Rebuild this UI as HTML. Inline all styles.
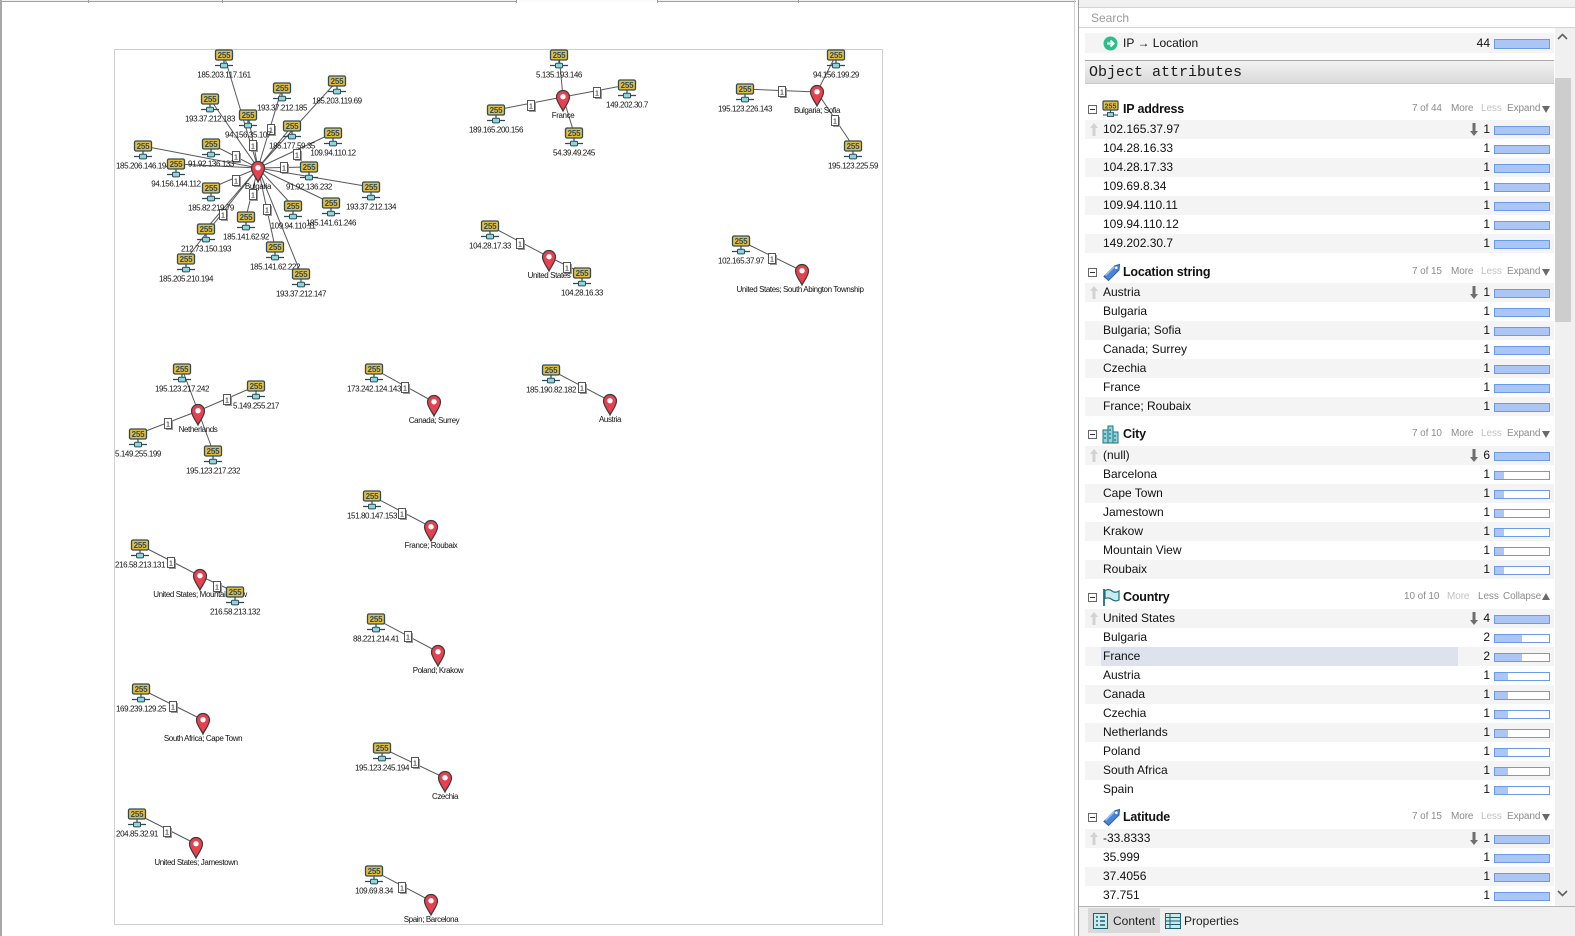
<!DOCTYPE html>
<html><head><meta charset="utf-8">
<style>
*{margin:0;padding:0;box-sizing:border-box}
body{width:1575px;height:936px;position:relative;overflow:hidden;background:#fff;font-family:"Liberation Sans",Arial,sans-serif}
.a{position:absolute}
.r{position:absolute;left:1085px;width:469px;height:19px;line-height:19px;font-size:12px;color:#111}
.g{background:#f4f4f4}
.r .t{position:absolute;left:18px;top:0;white-space:nowrap}
.r .c{position:absolute;right:64px;top:0}
.r .b{position:absolute;left:409px;top:6px;width:56px;height:9px;border:1px solid #6a9be9;background:#fff}
.r .b i{position:absolute;left:0;top:0;bottom:0;background:#abc6f4;display:block}
.r .u{position:absolute;left:5px;top:3px}
.r .d{position:absolute;left:385px;top:3px}
.h{position:absolute;left:1079px;width:475px;height:20px;line-height:20px;font-size:12px;background:#fff}
.h .x{position:absolute;left:9px;top:6px;width:9px;height:9px;border:1px solid #666;background:#fff}
.h .x:after{content:"";position:absolute;left:1px;top:3px;width:5px;height:1px;background:#333}
.h .ic{position:absolute;left:23px;top:1px}
.h .n{position:absolute;left:44px;font-weight:bold;font-size:12.5px;color:#111;letter-spacing:-0.2px}
.h .s{position:absolute;top:0;font-size:10px;color:#8c8c8c;letter-spacing:-0.1px;white-space:nowrap}
.h .lt{color:#c2c2c2}
.h .tri{position:absolute;left:463px;top:7px;width:0;height:0;border-left:4px solid transparent;border-right:4px solid transparent;border-top:7px solid #6a6a6a}
.h .triu{position:absolute;left:463px;top:6px;width:0;height:0;border-left:4px solid transparent;border-right:4px solid transparent;border-bottom:7px solid #6a6a6a}
svg text.l{font-family:"Liberation Sans",Arial,sans-serif;font-size:8px;fill:#111;text-anchor:middle;letter-spacing:-0.4px}
svg text.dg{font-family:"Liberation Sans",Arial,sans-serif;font-size:8px;font-weight:bold;fill:#2f4b58;text-anchor:middle;letter-spacing:-0.2px}
svg text.o{font-family:"Liberation Sans",Arial,sans-serif;font-size:7.5px;fill:#111;text-anchor:middle}
</style>
</head>
<body>

<!-- left panel chrome -->
<div class="a" style="left:0;top:0;width:1076px;height:2px;background:#f0f0f0;border-bottom:1px solid #a0a0a0"></div>
<div class="a" style="left:516px;top:0;width:141px;height:2px;background:#fbfbfb"></div>
<div class="a" style="left:88px;top:0;width:1px;height:3px;background:#a0a0a0"></div>
<div class="a" style="left:222px;top:0;width:1px;height:3px;background:#a0a0a0"></div>
<div class="a" style="left:516px;top:0;width:1px;height:3px;background:#a0a0a0"></div>
<div class="a" style="left:657px;top:0;width:1px;height:3px;background:#a0a0a0"></div>
<div class="a" style="left:798px;top:0;width:1px;height:3px;background:#a0a0a0"></div>
<div class="a" style="left:0;top:0;width:2px;height:936px;background:#a8a8a8"></div>
<div class="a" style="left:1074px;top:0;width:1px;height:936px;background:#cfcfcf"></div>
<div class="a" style="left:1078px;top:0;width:1px;height:936px;background:#9f9f9f"></div>

<svg class="a" style="left:0;top:0" width="1074" height="936" viewBox="0 0 1074 936">
<defs>
<g id="ipi"><path d="M0 5V8.5M-9 10.5H9" stroke="#2f4b58" stroke-width="1.2" fill="none"/><rect x="-8.5" y="-5" width="17" height="10" rx="1.5" fill="#e3bd3e" stroke="#2f4b58" stroke-width="1.3"/><rect x="-3.5" y="8.3" width="7" height="4.6" rx="1" fill="#8fd6dc" stroke="#2f4b58" stroke-width="1"/></g>
<g id="pin"><path d="M0 14C-2 9.5-6.5 5-6.5 0A6.5 6.5 0 1 1 6.5 0C6.5 5 2 9.5 0 14Z" fill="#e8404f" stroke="#3a3a3a" stroke-width="1.2"/><circle cy="-0.3" r="2.7" fill="#fff"/></g>
<g id="ob"><rect x="-2" y="-4" width="7" height="10" fill="#999"/><rect x="-3.5" y="-5.5" width="7" height="10" fill="#fff" stroke="#444" stroke-width="0.9"/></g>
</defs>
<rect x="114.5" y="49.5" width="768" height="875" fill="none" stroke="#cfcfcf"/>

<path fill="none" stroke="#595959" stroke-width="1" d="
M224 55L258 168 M210 99L258 168 M282 88L258 168 M337 81L258 168 M248 115L258 168
M292 126L258 168 M333 133L258 168 M143 146L258 168 M211 144L258 168 M176 164L258 168
M309 167L258 168 M371 187L258 168 M211 188L258 168 M246 217L258 168 M293 206L258 168
M331 203L258 168 M206 229L258 168 M275 247L258 168 M186 259L258 168 M301 274L258 168
M559 55L563 97 M627 85L563 97 M496 110L563 97 M574 133L563 97
M836 55L817 92 M745 89L817 92 M853 146L817 92
M490 226L549 257 M582 273L549 257
M741 241L802 271
M182 369L198 411 M256 386L198 411 M138 434L198 411 M213 451L198 411
M374 369L434 402 M551 370L610 401 M372 496L431 527
M140 545L200 576 M235 592L200 576
M376 619L438 652 M141 689L203 720 M382 748L445 778 M137 814L196 844 M374 871L431 901"/>

<g>
<g transform="translate(271,130)"><use href="#ob"/><text class="o" y="2.5">1</text></g>
<g transform="translate(253,146)"><use href="#ob"/><text class="o" y="2.5">1</text></g>
<g transform="translate(236,157)"><use href="#ob"/><text class="o" y="2.5">1</text></g>
<g transform="translate(297,155)"><use href="#ob"/><text class="o" y="2.5">1</text></g>
<g transform="translate(284,168)"><use href="#ob"/><text class="o" y="2.5">1</text></g>
<g transform="translate(236,181)"><use href="#ob"/><text class="o" y="2.5">1</text></g>
<g transform="translate(253,195)"><use href="#ob"/><text class="o" y="2.5">1</text></g>
<g transform="translate(267,210)"><use href="#ob"/><text class="o" y="2.5">1</text></g>
<g transform="translate(223,215)"><use href="#ob"/><text class="o" y="2.5">1</text></g>
<g transform="translate(531,106)"><use href="#ob"/><text class="o" y="2.5">1</text></g>
<g transform="translate(597,93)"><use href="#ob"/><text class="o" y="2.5">1</text></g>
<g transform="translate(782,92)"><use href="#ob"/><text class="o" y="2.5">1</text></g>
<g transform="translate(835,121)"><use href="#ob"/><text class="o" y="2.5">1</text></g>
<g transform="translate(520,244)"><use href="#ob"/><text class="o" y="2.5">1</text></g>
<g transform="translate(567,268)"><use href="#ob"/><text class="o" y="2.5">1</text></g>
<g transform="translate(772,259)"><use href="#ob"/><text class="o" y="2.5">1</text></g>
<g transform="translate(227,400)"><use href="#ob"/><text class="o" y="2.5">1</text></g>
<g transform="translate(168,424)"><use href="#ob"/><text class="o" y="2.5">1</text></g>
<g transform="translate(405,388)"><use href="#ob"/><text class="o" y="2.5">1</text></g>
<g transform="translate(582,388)"><use href="#ob"/><text class="o" y="2.5">1</text></g>
<g transform="translate(402,514)"><use href="#ob"/><text class="o" y="2.5">1</text></g>
<g transform="translate(171,563)"><use href="#ob"/><text class="o" y="2.5">1</text></g>
<g transform="translate(217,587)"><use href="#ob"/><text class="o" y="2.5">1</text></g>
<g transform="translate(408,637)"><use href="#ob"/><text class="o" y="2.5">1</text></g>
<g transform="translate(173,707)"><use href="#ob"/><text class="o" y="2.5">1</text></g>
<g transform="translate(415,763)"><use href="#ob"/><text class="o" y="2.5">1</text></g>
<g transform="translate(167,832)"><use href="#ob"/><text class="o" y="2.5">1</text></g>
<g transform="translate(402,888)"><use href="#ob"/><text class="o" y="2.5">1</text></g>
</g>

<g>
<g transform="translate(258,168)"><use href="#pin"/><text class="l" y="21">Bulgaria</text></g>
<g transform="translate(563,97)"><use href="#pin"/><text class="l" y="21">France</text></g>
<g transform="translate(817,92)"><use href="#pin"/><text class="l" y="21">Bulgaria; Sofia</text></g>
<g transform="translate(549,257)"><use href="#pin"/><text class="l" y="21">United States</text></g>
<g transform="translate(802,271)"><use href="#pin"/><text class="l" x="-2" y="21">United States; South Abington Township</text></g>
<g transform="translate(198,411)"><use href="#pin"/><text class="l" y="21">Netherlands</text></g>
<g transform="translate(434,402)"><use href="#pin"/><text class="l" y="21">Canada; Surrey</text></g>
<g transform="translate(610,401)"><use href="#pin"/><text class="l" y="21">Austria</text></g>
<g transform="translate(431,527)"><use href="#pin"/><text class="l" y="21">France; Roubaix</text></g>
<g transform="translate(200,576)"><use href="#pin"/><text class="l" y="21">United States; Mountain View</text></g>
<g transform="translate(438,652)"><use href="#pin"/><text class="l" y="21">Poland; Krakow</text></g>
<g transform="translate(203,720)"><use href="#pin"/><text class="l" y="21">South Africa; Cape Town</text></g>
<g transform="translate(445,778)"><use href="#pin"/><text class="l" y="21">Czechia</text></g>
<g transform="translate(196,844)"><use href="#pin"/><text class="l" y="21">United States; Jamestown</text></g>
<g transform="translate(431,901)"><use href="#pin"/><text class="l" y="21">Spain; Barcelona</text></g>
</g>

<g>
<g transform="translate(224,55)"><use href="#ipi"/><text class="dg" y="3">255</text><text class="l" y="22.5">185.203.117.161</text></g>
<g transform="translate(210,99)"><use href="#ipi"/><text class="dg" y="3">255</text><text class="l" y="22.5">193.37.212.183</text></g>
<g transform="translate(282,88)"><use href="#ipi"/><text class="dg" y="3">255</text><text class="l" y="22.5">193.37.212.185</text></g>
<g transform="translate(337,81)"><use href="#ipi"/><text class="dg" y="3">255</text><text class="l" y="22.5">185.203.119.69</text></g>
<g transform="translate(248,115)"><use href="#ipi"/><text class="dg" y="3">255</text><text class="l" y="22.5">94.156.35.107</text></g>
<g transform="translate(292,126)"><use href="#ipi"/><text class="dg" y="3">255</text><text class="l" y="22.5">185.177.59.35</text></g>
<g transform="translate(333,133)"><use href="#ipi"/><text class="dg" y="3">255</text><text class="l" y="22.5">109.94.110.12</text></g>
<g transform="translate(143,146)"><use href="#ipi"/><text class="dg" y="3">255</text><text class="l" y="22.5">185.206.146.194</text></g>
<g transform="translate(211,144)"><use href="#ipi"/><text class="dg" y="3">255</text><text class="l" y="22.5">91.92.136.133</text></g>
<g transform="translate(176,164)"><use href="#ipi"/><text class="dg" y="3">255</text><text class="l" y="22.5">94.156.144.112</text></g>
<g transform="translate(309,167)"><use href="#ipi"/><text class="dg" y="3">255</text><text class="l" y="22.5">91.92.136.232</text></g>
<g transform="translate(371,187)"><use href="#ipi"/><text class="dg" y="3">255</text><text class="l" y="22.5">193.37.212.134</text></g>
<g transform="translate(211,188)"><use href="#ipi"/><text class="dg" y="3">255</text><text class="l" y="22.5">185.82.219.79</text></g>
<g transform="translate(246,217)"><use href="#ipi"/><text class="dg" y="3">255</text><text class="l" y="22.5">185.141.62.92</text></g>
<g transform="translate(293,206)"><use href="#ipi"/><text class="dg" y="3">255</text><text class="l" y="22.5">109.94.110.11</text></g>
<g transform="translate(331,203)"><use href="#ipi"/><text class="dg" y="3">255</text><text class="l" y="22.5">185.141.61.246</text></g>
<g transform="translate(206,229)"><use href="#ipi"/><text class="dg" y="3">255</text><text class="l" y="22.5">212.73.150.193</text></g>
<g transform="translate(275,247)"><use href="#ipi"/><text class="dg" y="3">255</text><text class="l" y="22.5">185.141.62.222</text></g>
<g transform="translate(186,259)"><use href="#ipi"/><text class="dg" y="3">255</text><text class="l" y="22.5">185.205.210.194</text></g>
<g transform="translate(301,274)"><use href="#ipi"/><text class="dg" y="3">255</text><text class="l" y="22.5">193.37.212.147</text></g>

<g transform="translate(559,55)"><use href="#ipi"/><text class="dg" y="3">255</text><text class="l" y="22.5">5.135.193.146</text></g>
<g transform="translate(627,85)"><use href="#ipi"/><text class="dg" y="3">255</text><text class="l" y="22.5">149.202.30.7</text></g>
<g transform="translate(496,110)"><use href="#ipi"/><text class="dg" y="3">255</text><text class="l" y="22.5">189.165.200.156</text></g>
<g transform="translate(574,133)"><use href="#ipi"/><text class="dg" y="3">255</text><text class="l" y="22.5">54.39.49.245</text></g>
<g transform="translate(836,55)"><use href="#ipi"/><text class="dg" y="3">255</text><text class="l" y="22.5">94.156.199.29</text></g>
<g transform="translate(745,89)"><use href="#ipi"/><text class="dg" y="3">255</text><text class="l" y="22.5">195.123.226.143</text></g>
<g transform="translate(853,146)"><use href="#ipi"/><text class="dg" y="3">255</text><text class="l" y="22.5">195.123.225.59</text></g>
<g transform="translate(490,226)"><use href="#ipi"/><text class="dg" y="3">255</text><text class="l" y="22.5">104.28.17.33</text></g>
<g transform="translate(582,273)"><use href="#ipi"/><text class="dg" y="3">255</text><text class="l" y="22.5">104.28.16.33</text></g>
<g transform="translate(741,241)"><use href="#ipi"/><text class="dg" y="3">255</text><text class="l" y="22.5">102.165.37.97</text></g>
<g transform="translate(182,369)"><use href="#ipi"/><text class="dg" y="3">255</text><text class="l" y="22.5">195.123.217.242</text></g>
<g transform="translate(256,386)"><use href="#ipi"/><text class="dg" y="3">255</text><text class="l" y="22.5">5.149.255.217</text></g>
<g transform="translate(138,434)"><use href="#ipi"/><text class="dg" y="3">255</text><text class="l" y="22.5">5.149.255.199</text></g>
<g transform="translate(213,451)"><use href="#ipi"/><text class="dg" y="3">255</text><text class="l" y="22.5">195.123.217.232</text></g>
<g transform="translate(374,369)"><use href="#ipi"/><text class="dg" y="3">255</text><text class="l" y="22.5">173.242.124.143</text></g>
<g transform="translate(551,370)"><use href="#ipi"/><text class="dg" y="3">255</text><text class="l" y="22.5">185.190.82.182</text></g>
<g transform="translate(372,496)"><use href="#ipi"/><text class="dg" y="3">255</text><text class="l" y="22.5">151.80.147.153</text></g>
<g transform="translate(140,545)"><use href="#ipi"/><text class="dg" y="3">255</text><text class="l" y="22.5">216.58.213.131</text></g>
<g transform="translate(235,592)"><use href="#ipi"/><text class="dg" y="3">255</text><text class="l" y="22.5">216.58.213.132</text></g>
<g transform="translate(376,619)"><use href="#ipi"/><text class="dg" y="3">255</text><text class="l" y="22.5">88.221.214.41</text></g>
<g transform="translate(141,689)"><use href="#ipi"/><text class="dg" y="3">255</text><text class="l" y="22.5">169.239.129.25</text></g>
<g transform="translate(382,748)"><use href="#ipi"/><text class="dg" y="3">255</text><text class="l" y="22.5">195.123.245.194</text></g>
<g transform="translate(137,814)"><use href="#ipi"/><text class="dg" y="3">255</text><text class="l" y="22.5">204.85.32.91</text></g>
<g transform="translate(374,871)"><use href="#ipi"/><text class="dg" y="3">255</text><text class="l" y="22.5">109.69.8.34</text></g>
</g>
</svg>

<!-- right panel -->
<div class="a" style="left:1079px;top:0;width:496px;height:936px;background:#fff"></div>
<div class="a" style="left:1079px;top:0;width:496px;height:8px;background:#f0f0f0;border-bottom:1px solid #d4d4d4"></div>
<div class="a" style="left:1079px;top:8px;width:496px;height:20px;background:#fff;border-bottom:1px solid #d4d4d4"></div>
<div class="a" style="left:1091px;top:9px;height:18px;line-height:18px;font-size:12px;color:#9a9a9a">Search</div>

<!-- scrollbar -->
<div class="a" style="left:1555px;top:28px;width:20px;height:879px;background:#f0f0f0"></div>
<div class="a" style="left:1555px;top:78px;width:16px;height:244px;background:#cdcdcd"></div>
<svg class="a" style="left:1557px;top:33px" width="11" height="8"><path d="M1 6L5.5 1.5L10 6" fill="none" stroke="#606060" stroke-width="1.6"/></svg>
<svg class="a" style="left:1557px;top:889px" width="11" height="8"><path d="M1 2L5.5 6.5L10 2" fill="none" stroke="#606060" stroke-width="1.6"/></svg>

<!-- IP -> Location -->
<div class="r g" style="top:33px;height:20px;line-height:20px">
<svg class="a" style="left:18px;top:3px" width="15" height="15"><circle cx="7.5" cy="7.5" r="7" fill="#2dbd8a"/><path d="M4 7.5H10M7.5 4.5L10.5 7.5L7.5 10.5" fill="none" stroke="#fff" stroke-width="2"/></svg>
<span class="a" style="left:38px">IP → Location</span>
<span class="c">44</span><span class="b" style="top:6px;height:10px"><i style="width:100%"></i></span>
</div>

<!-- Object attributes -->
<div class="a" style="left:1085px;top:60px;width:469px;height:24px;border-top:1px solid #a8a8a8;border-bottom:1px solid #c8c8c8;background:linear-gradient(#f2f2f2,#dadada);font-family:'Liberation Mono',monospace;font-size:15px;line-height:24px;color:#1a1a1a;padding-left:4px">Object attributes</div>

<!-- IP address section -->
<div class="h" style="top:99px">
<span class="x"></span>
<svg class="ic" width="18" height="19"><rect x="1" y="1" width="15" height="9" rx="1" fill="#e3bd3e" stroke="#2f4b58" stroke-width="1.2"/><text x="8.5" y="8.3" font-family="Liberation Sans" font-size="7" font-weight="bold" fill="#2f4b58" text-anchor="middle">255</text><path d="M8.5 10V13M1 15H16" stroke="#2f4b58" stroke-width="1.1"/><rect x="5.5" y="12.5" width="6" height="4" fill="#8fd6dc" stroke="#2f4b58" stroke-width="0.9"/></svg>
<span class="n">IP address</span>
<span class="s" style="left:333px">7 of 44</span><span class="s" style="left:372px">More</span><span class="s lt" style="left:402px">Less</span><span class="s" style="left:428px">Expand</span><span class="tri"></span>
</div>
<div class="r g" style="top:120px"><svg class="u" width="8" height="13"><path d="M4 0L8 5H5.5V13H2.5V5H0Z" fill="#d2d2d2"/></svg><span class="t">102.165.37.97</span><svg class="d" width="8" height="13"><path d="M4 13L8 8H5.5V0H2.5V8H0Z" fill="#6e6e6e"/></svg><span class="c">1</span><span class="b"><i style="width:100%"></i></span></div>
<div class="r" style="top:139px"><span class="t">104.28.16.33</span><span class="c">1</span><span class="b"><i style="width:100%"></i></span></div>
<div class="r g" style="top:158px"><span class="t">104.28.17.33</span><span class="c">1</span><span class="b"><i style="width:100%"></i></span></div>
<div class="r" style="top:177px"><span class="t">109.69.8.34</span><span class="c">1</span><span class="b"><i style="width:100%"></i></span></div>
<div class="r g" style="top:196px"><span class="t">109.94.110.11</span><span class="c">1</span><span class="b"><i style="width:100%"></i></span></div>
<div class="r" style="top:215px"><span class="t">109.94.110.12</span><span class="c">1</span><span class="b"><i style="width:100%"></i></span></div>
<div class="r g" style="top:234px"><span class="t">149.202.30.7</span><span class="c">1</span><span class="b"><i style="width:100%"></i></span></div>

<!-- Location string -->
<div class="h" style="top:262px">
<span class="x"></span>
<svg class="ic" width="19" height="19"><path d="M2 13.5L12.5 3L17.5 1.5L17 7L6.5 17.5Z" fill="#4a84d8" stroke="#2c5ea8" stroke-width="1"/><path d="M3.5 12.5L12.5 3.5" stroke="#9cc0f0" stroke-width="1.5"/><circle cx="14.3" cy="4.7" r="1.3" fill="#fff"/></svg>
<span class="n">Location string</span>
<span class="s" style="left:333px">7 of 15</span><span class="s" style="left:372px">More</span><span class="s lt" style="left:402px">Less</span><span class="s" style="left:428px">Expand</span><span class="tri"></span>
</div>
<div class="r g" style="top:283px"><svg class="u" width="8" height="13"><path d="M4 0L8 5H5.5V13H2.5V5H0Z" fill="#d2d2d2"/></svg><span class="t">Austria</span><svg class="d" width="8" height="13"><path d="M4 13L8 8H5.5V0H2.5V8H0Z" fill="#6e6e6e"/></svg><span class="c">1</span><span class="b"><i style="width:100%"></i></span></div>
<div class="r" style="top:302px"><span class="t">Bulgaria</span><span class="c">1</span><span class="b"><i style="width:100%"></i></span></div>
<div class="r g" style="top:321px"><span class="t">Bulgaria; Sofia</span><span class="c">1</span><span class="b"><i style="width:100%"></i></span></div>
<div class="r" style="top:340px"><span class="t">Canada; Surrey</span><span class="c">1</span><span class="b"><i style="width:100%"></i></span></div>
<div class="r g" style="top:359px"><span class="t">Czechia</span><span class="c">1</span><span class="b"><i style="width:100%"></i></span></div>
<div class="r" style="top:378px"><span class="t">France</span><span class="c">1</span><span class="b"><i style="width:100%"></i></span></div>
<div class="r g" style="top:397px"><span class="t">France; Roubaix</span><span class="c">1</span><span class="b"><i style="width:100%"></i></span></div>

<!-- City -->
<div class="h" style="top:424px">
<span class="x"></span>
<svg class="ic" width="17" height="19"><rect x="1" y="5" width="5" height="13" fill="#8fd6dc" stroke="#1f6f80"/><rect x="6" y="1" width="5" height="17" fill="#8fd6dc" stroke="#1f6f80"/><rect x="11" y="7" width="5" height="11" fill="#8fd6dc" stroke="#1f6f80"/><path d="M3 8V10M3 12V14M8 4V6M8 8V10M8 12V14M13 10V12M13 14V16" stroke="#1f6f80" stroke-width="1.2"/></svg>
<span class="n">City</span>
<span class="s" style="left:333px">7 of 10</span><span class="s" style="left:372px">More</span><span class="s lt" style="left:402px">Less</span><span class="s" style="left:428px">Expand</span><span class="tri"></span>
</div>
<div class="r g" style="top:446px"><svg class="u" width="8" height="13"><path d="M4 0L8 5H5.5V13H2.5V5H0Z" fill="#d2d2d2"/></svg><span class="t">(null)</span><svg class="d" width="8" height="13"><path d="M4 13L8 8H5.5V0H2.5V8H0Z" fill="#6e6e6e"/></svg><span class="c">6</span><span class="b"><i style="width:100%"></i></span></div>
<div class="r" style="top:465px"><span class="t">Barcelona</span><span class="c">1</span><span class="b"><i style="width:9px"></i></span></div>
<div class="r g" style="top:484px"><span class="t">Cape Town</span><span class="c">1</span><span class="b"><i style="width:9px"></i></span></div>
<div class="r" style="top:503px"><span class="t">Jamestown</span><span class="c">1</span><span class="b"><i style="width:9px"></i></span></div>
<div class="r g" style="top:522px"><span class="t">Krakow</span><span class="c">1</span><span class="b"><i style="width:9px"></i></span></div>
<div class="r" style="top:541px"><span class="t">Mountain View</span><span class="c">1</span><span class="b"><i style="width:9px"></i></span></div>
<div class="r g" style="top:560px"><span class="t">Roubaix</span><span class="c">1</span><span class="b"><i style="width:9px"></i></span></div>

<!-- Country -->
<div class="h" style="top:587px">
<span class="x"></span>
<svg class="ic" width="18" height="19"><path d="M2 1V18" stroke="#1f6f80" stroke-width="1.8"/><path d="M3 2.5Q7 0.5 10 3T17 3V12Q13 14 10 11.5T3 10.5Z" fill="#c6ecee" stroke="#1f6f80" stroke-width="1.2"/></svg>
<span class="n">Country</span>
<span class="s" style="left:325px">10 of 10</span><span class="s lt" style="left:368px">More</span><span class="s" style="left:399px">Less</span><span class="s" style="left:424px">Collapse</span><span class="triu"></span>
</div>
<div class="r g" style="top:609px"><svg class="u" width="8" height="13"><path d="M4 0L8 5H5.5V13H2.5V5H0Z" fill="#d2d2d2"/></svg><span class="t">United States</span><svg class="d" width="8" height="13"><path d="M4 13L8 8H5.5V0H2.5V8H0Z" fill="#6e6e6e"/></svg><span class="c">4</span><span class="b"><i style="width:100%"></i></span></div>
<div class="r" style="top:628px"><span class="t">Bulgaria</span><span class="c">2</span><span class="b"><i style="width:27px"></i></span></div>
<div class="r g" style="top:647px"><div class="a" style="left:16px;top:0;width:357px;height:19px;background:#dce3ec"></div><span class="t">France</span><span class="c">2</span><span class="b"><i style="width:27px"></i></span></div>
<div class="r" style="top:666px"><span class="t">Austria</span><span class="c">1</span><span class="b"><i style="width:13px"></i></span></div>
<div class="r g" style="top:685px"><span class="t">Canada</span><span class="c">1</span><span class="b"><i style="width:13px"></i></span></div>
<div class="r" style="top:704px"><span class="t">Czechia</span><span class="c">1</span><span class="b"><i style="width:13px"></i></span></div>
<div class="r g" style="top:723px"><span class="t">Netherlands</span><span class="c">1</span><span class="b"><i style="width:13px"></i></span></div>
<div class="r" style="top:742px"><span class="t">Poland</span><span class="c">1</span><span class="b"><i style="width:13px"></i></span></div>
<div class="r g" style="top:761px"><span class="t">South Africa</span><span class="c">1</span><span class="b"><i style="width:13px"></i></span></div>
<div class="r" style="top:780px"><span class="t">Spain</span><span class="c">1</span><span class="b"><i style="width:13px"></i></span></div>

<!-- Latitude -->
<div class="h" style="top:807px">
<span class="x"></span>
<svg class="ic" width="19" height="19"><path d="M2 13.5L12.5 3L17.5 1.5L17 7L6.5 17.5Z" fill="#4a84d8" stroke="#2c5ea8" stroke-width="1"/><path d="M3.5 12.5L12.5 3.5" stroke="#9cc0f0" stroke-width="1.5"/><circle cx="14.3" cy="4.7" r="1.3" fill="#fff"/></svg>
<span class="n">Latitude</span>
<span class="s" style="left:333px">7 of 15</span><span class="s" style="left:372px">More</span><span class="s lt" style="left:402px">Less</span><span class="s" style="left:428px">Expand</span><span class="tri"></span>
</div>
<div class="r g" style="top:829px"><svg class="u" width="8" height="13"><path d="M4 0L8 5H5.5V13H2.5V5H0Z" fill="#d2d2d2"/></svg><span class="t">-33.8333</span><svg class="d" width="8" height="13"><path d="M4 13L8 8H5.5V0H2.5V8H0Z" fill="#6e6e6e"/></svg><span class="c">1</span><span class="b"><i style="width:100%"></i></span></div>
<div class="r" style="top:848px"><span class="t">35.999</span><span class="c">1</span><span class="b"><i style="width:100%"></i></span></div>
<div class="r g" style="top:867px"><span class="t">37.4056</span><span class="c">1</span><span class="b"><i style="width:100%"></i></span></div>
<div class="r" style="top:886px"><span class="t">37.751</span><span class="c">1</span><span class="b"><i style="width:100%"></i></span></div>

<!-- bottom tab strip -->
<div class="a" style="left:1079px;top:906px;width:496px;height:30px;background:#f0f0f0;border-top:1px solid #b5b5b5"></div>
<div class="a" style="left:1088px;top:908px;width:72px;height:25px;background:#d9d9d9"></div>
<svg class="a" style="left:1093px;top:913px" width="15" height="16"><rect x="0.5" y="0.5" width="14" height="15" fill="#c6ecee" stroke="#1f5f70"/><path d="M3 4H5M7 4H12M3 8H5M7 8H12M3 12H5M7 12H12" stroke="#1f5f70" stroke-width="1.5"/></svg>
<div class="a" style="left:1113px;top:911px;line-height:20px;font-size:12px;color:#222">Content</div>
<svg class="a" style="left:1165px;top:913px" width="16" height="16"><rect x="0.5" y="0.5" width="15" height="15" fill="#c6ecee" stroke="#1f5f70"/><path d="M0.5 4.5H15.5M0.5 8H15.5M0.5 11.5H15.5M5 0.5V15.5" stroke="#1f5f70" stroke-width="1"/></svg>
<div class="a" style="left:1184px;top:911px;line-height:20px;font-size:12px;color:#222">Properties</div>

</body></html>
